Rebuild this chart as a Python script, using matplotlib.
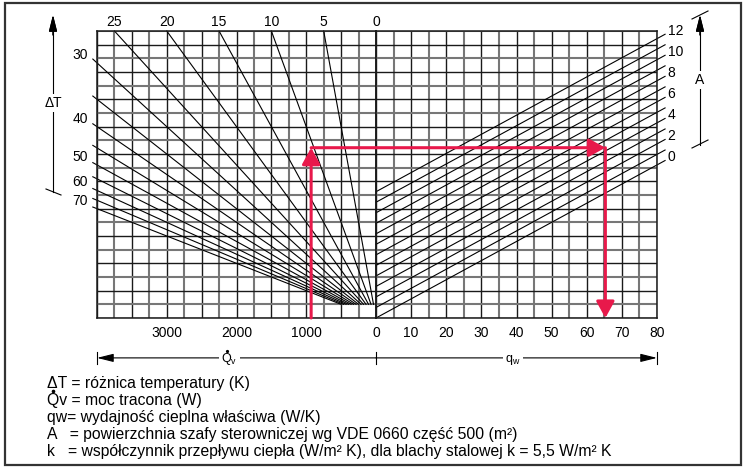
import numpy as np
import matplotlib.pyplot as plt
from matplotlib.patches import ConnectionPatch, Rectangle
from matplotlib.lines import Line2D
from matplotlib.transforms import offset_copy

plt.rcParams['font.family'] = ['Liberation Sans', 'DejaVu Sans']
plt.rcParams['mathtext.fontset'] = 'custom'
plt.rcParams['mathtext.rm'] = 'Liberation Sans'
plt.rcParams['mathtext.it'] = 'Liberation Sans:italic'

# nomogram lines
dT_lines = [5, 10, 15, 20, 25, 30, 35, 40, 45, 50, 55, 60, 65, 70]
dT_top_labels = [25, 20, 15, 10, 5, 0]
dT_side_labels = [30, 40, 50, 60, 70]
A_lines = [0, 1, 2, 3, 4, 5, 6, 7, 8, 9, 10, 11, 12]
A_labels = [12, 10, 8, 6, 4, 2, 0]
k_steel = 5.5
Qv_ticks = [3000, 2000, 1000]
qw_ticks = [0, 10, 20, 30, 40, 50, 60, 70, 80]

Qv_max = 4000
qw_max = 80
level_max = 150   # W/K
n_rows = 21

# worked example (red)
ex_Qv = 930
ex_level = 89
ex_qw = 65.3

legend_lines = [
    'ΔT = różnica temperatury (K)',
    'Qv = moc tracona (W)',
    'qw= wydajność cieplna właściwa (W/K)',
    'A   = powierzchnia szafy sterowniczej wg VDE 0660 część 500 (m²)',
    'k   = współczynnik przepływu ciepła (W/m² K), dla blachy stalowej k = 5,5 W/m² K',
]

W, H = 745, 468
red = '#e8194b'
dark = '#1a1a1a'
grey = '#777777'


def fpx(x, y):
    return (x / W, 1 - y / H)


fig = plt.figure(figsize=(W / 100, H / 100), dpi=100)
axL = fig.add_axes([97 / W, 150 / H, 279 / W, 287 / H])
axR = fig.add_axes([376 / W, 150 / H, 281 / W, 287 / H])

axL.set_xlim(Qv_max, 0)
axR.set_xlim(0, qw_max)
for ax in (axL, axR):
    ax.set_ylim(0, level_max)
    ax.set_yticks([])
    ax.tick_params(axis='x', length=0, labelsize=10, pad=6)
    for s in ax.spines.values():
        s.set_linewidth(1.1)
        s.set_color(dark)
        s.set_zorder(4)

# grid
rows = np.linspace(0, level_max, n_rows + 1)
for ax, cols in ((axL, np.arange(0, Qv_max + 1, 250)), (axR, np.arange(0, qw_max + 1, 5))):
    for i, c in enumerate(cols):
        ax.axvline(c, color=dark if i % 2 == 0 else grey, lw=1.0 if i % 2 == 0 else 1.5, zorder=1)
    for i, r in enumerate(rows):
        ax.axhline(r, color=dark if i % 2 == 0 else grey, lw=1.0 if i % 2 == 0 else 1.5, zorder=1)

axL.set_xticks(Qv_ticks)
axL.set_xticklabels([str(v) for v in Qv_ticks])
axR.set_xticks(qw_ticks)
axR.set_xticklabels([str(v) for v in qw_ticks])

# delta T lines: level = Qv / dT
stop = rows[1]
for dT in dT_lines:
    q0 = dT * level_max
    if q0 > Qv_max:
        q0 = Qv_max + 60
    q1 = dT * stop
    axL.plot([q0, q1], [q0 / dT, q1 / dT], color='black', lw=0.8, zorder=2, clip_on=False)
for dT in dT_side_labels:
    axL.text(Qv_max + 130, Qv_max / dT + 4.2, str(dT), ha='right', va='center',
             fontsize=10, clip_on=False)
for dT in dT_top_labels:
    axL.text(dT * level_max, level_max + 4.7, str(dT), ha='center', va='center',
             fontsize=10, clip_on=False)

# A lines: level = qw + k*A
for A in A_lines:
    q = np.array([0, qw_max + 2.3])
    axR.plot(q, q + k_steel * A, color='black', lw=0.8, zorder=2, clip_on=False)
for A in A_labels:
    axR.text(qw_max + 3, qw_max + 2.3 + k_steel * A + 1.6, str(A), ha='left', va='center',
             fontsize=10, clip_on=False)

# worked example
red_arrow = '-|>,head_length=1.0,head_width=0.55'
axL.annotate('', xy=(ex_Qv, ex_level), xytext=(ex_Qv, 0),
             arrowprops=dict(arrowstyle=red_arrow, color=red, lw=2.2,
                             shrinkA=0, shrinkB=0), zorder=5)
con = ConnectionPatch(xyA=(ex_Qv, ex_level), coordsA=axL.transData,
                      xyB=(ex_qw, ex_level), coordsB=axR.transData,
                      arrowstyle=red_arrow, color=red, lw=2.2,
                      shrinkA=0, shrinkB=0, zorder=5)
fig.add_artist(con)
axR.annotate('', xy=(ex_qw, 0), xytext=(ex_qw, ex_level),
             arrowprops=dict(arrowstyle=red_arrow, color=red, lw=2.2,
                             shrinkA=0, shrinkB=0), zorder=5)

# bottom scale arrows
blk_arrow = '-|>,head_length=1.0,head_width=0.25'
yb = -0.139
axL.annotate('', xy=(Qv_max, yb), xytext=(0, yb), xycoords=axL.get_xaxis_transform(),
             arrowprops=dict(arrowstyle=blk_arrow, color='black', lw=0.8,
                             shrinkA=0, shrinkB=0), annotation_clip=False)
axR.annotate('', xy=(qw_max, yb), xytext=(0, yb), xycoords=axR.get_xaxis_transform(),
             arrowprops=dict(arrowstyle=blk_arrow, color='black', lw=0.8,
                             shrinkA=0, shrinkB=0), annotation_clip=False)
for ax, xv in ((axL, Qv_max), (axL, 0), (axR, qw_max)):
    ax.plot([xv, xv], [yb - 0.021, yb + 0.021], color='black', lw=0.8,
            transform=ax.get_xaxis_transform(), clip_on=False)
axL.text(2100, yb, r'Q$_{\mathrm{v}}$', ha='center', va='baseline', fontsize=9,
         transform=offset_copy(axL.get_xaxis_transform(), fig=fig, x=0, y=-4.5, units='dots'),
         bbox=dict(facecolor='white', edgecolor='none', pad=1.5))
axL.plot([2100], [yb], marker='o', ms=1.3, color='black', clip_on=False, zorder=6,
         transform=offset_copy(axL.get_xaxis_transform(), fig=fig, x=-2.5, y=7.0, units='dots'))
axR.text(39, yb, r'q$_{\mathrm{w}}$', ha='center', va='baseline', fontsize=9,
         transform=offset_copy(axR.get_xaxis_transform(), fig=fig, x=0, y=-4.0, units='dots'),
         bbox=dict(facecolor='white', edgecolor='none', pad=1.5))

# side arrows (delta T, A)
fig.add_artist(Line2D([fpx(53, 192)[0]] * 2, [fpx(53, 192)[1], fpx(53, 30)[1]],
                      color='black', lw=0.8))
fig.add_artist(Line2D([fpx(46, 189)[0], fpx(61, 195)[0]], [fpx(46, 189)[1], fpx(61, 195)[1]],
                      color='black', lw=0.8))
fig.add_artist(Line2D([fpx(700, 145)[0]] * 2, [fpx(700, 145)[1], fpx(700, 30)[1]],
                      color='black', lw=0.8))
fig.add_artist(Line2D([fpx(692, 148)[0], fpx(708, 140)[0]], [fpx(692, 148)[1], fpx(708, 140)[1]],
                      color='black', lw=0.8))
fig.add_artist(Line2D([fpx(692, 19)[0], fpx(708, 11)[0]], [fpx(692, 19)[1], fpx(708, 11)[1]],
                      color='black', lw=0.8))
for x0 in (53, 700):
    fig.add_artist(plt.annotate('', xy=fpx(x0, 15), xytext=fpx(x0, 35), xycoords='figure fraction',
                                arrowprops=dict(arrowstyle=blk_arrow, color='black', lw=0.8,
                                                shrinkA=0, shrinkB=0)))
fig.text(*fpx(53, 103), 'ΔT', ha='center', va='center', fontsize=10,
         bbox=dict(facecolor='white', edgecolor='none', pad=1.5))
fig.text(*fpx(700, 80), 'A', ha='center', va='center', fontsize=10,
         bbox=dict(facecolor='white', edgecolor='none', pad=1.5))

# legend
for i, s in enumerate(legend_lines):
    fig.text(*fpx(47, 388 + 17 * i), s, ha='left', va='baseline', fontsize=11.3)
fig.add_artist(Line2D([fpx(53, 390.5)[0]], [fpx(53, 390.5)[1]], marker='o', ms=1.6,
                      color='black'))

fig.add_artist(Rectangle(fpx(5, 465), 736 / W, 462 / H, transform=fig.transFigure,
                         fill=False, edgecolor='#333333', lw=1.6))

fig.savefig('out.png', dpi=100)
